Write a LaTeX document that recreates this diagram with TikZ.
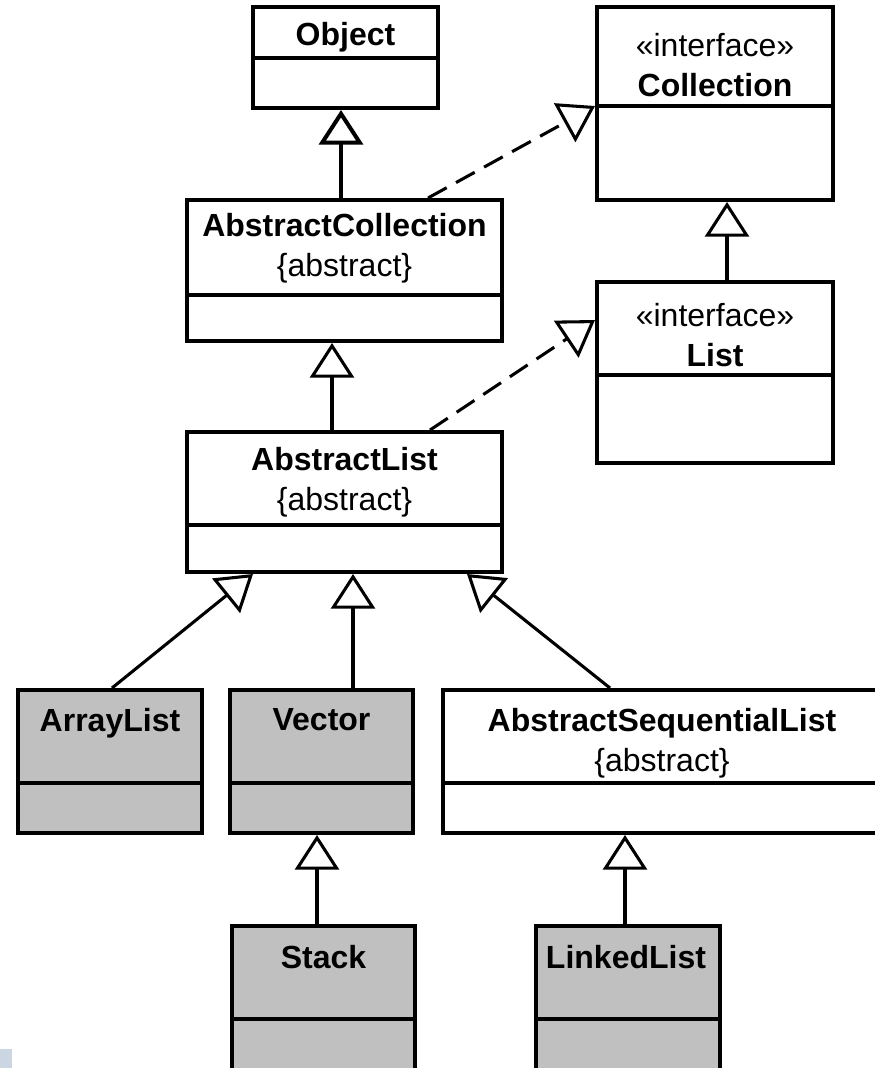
\documentclass[tikz,border=0pt]{standalone}
\usepackage{fontspec}
\setmainfont{Liberation Sans}
\usetikzlibrary{calc, arrows.meta}
\definecolor{clsgray}{RGB}{192,192,192}
\definecolor{cornerblue}{RGB}{203,214,226}

\begin{document}
\begin{tikzpicture}[x=0.75pt, y=-0.75pt,
        cls/.style={draw, line width=3pt, fill=white, inner sep=0pt},
        concrete/.style={cls, fill=clsgray},
        lbl/.style={anchor=north, align=center, inner sep=0pt, font=\fontsize{24}{30}\selectfont},
        sep/.style={line width=2.6pt},
        gen/.style={-{Triangle[open, length=26pt, width=33pt]}, line width=2.3pt},
        real/.style={gen, dash pattern=on 16pt off 8pt}]
            \path[fill=white, use as bounding box] (0,0) rectangle (875,1068);

            \node[cls, minimum width=138.75pt, minimum height=75.75pt] (obj) at (345.5,57.5) {};
            \node[cls, minimum width=177pt, minimum height=144.75pt] (coll) at (715,103.5) {};
            \node[cls, minimum width=236.25pt, minimum height=105.75pt] (acoll) at (344.5,270.5) {};
            \node[cls, minimum width=177pt, minimum height=135.75pt] (list) at (715,372.5) {};
            \node[cls, minimum width=236.25pt, minimum height=105pt] (alist) at (344.5,502) {};
            \node[concrete, minimum width=138pt, minimum height=107.25pt] (arr) at (110,761.5) {};
            \node[concrete, minimum width=137.25pt, minimum height=107.25pt] (vec) at (321.5,761.5) {};
            \node[cls, minimum width=328.5pt, minimum height=107.25pt] (aseq) at (662,761.5) {};
            \node[concrete, minimum width=137.25pt, minimum height=112.5pt] (stack) at (323.5,1001) {};
            \node[concrete, minimum width=138pt, minimum height=112.5pt] (linked) at (628,1001) {};

            \foreach \n/\y in {obj/58, coll/106, acoll/295, list/375, alist/525, arr/783, vec/783, aseq/783, stack/1019, linked/1019}{
                \draw[sep] (\n.west |- 0,\y) -- (\n.east |- 0,\y);
            }

            \node[lbl] (obj-t) at (345.5,22) {\textbf{Object}};
            \node[lbl] (coll-t) at (715,33) {«interface»\\\textbf{Collection}};
            \node[lbl] (acoll-t) at (344.5,213) {\textbf{AbstractCollection}\\\{abstract\}};
            \node[lbl] (list-t) at (715,303) {«interface»\\\textbf{List}};
            \node[lbl] (alist-t) at (344.5,447) {\textbf{AbstractList}\\\{abstract\}};
            \node[lbl] (arr-t) at (110,708) {\textbf{ArrayList}};
            \node[lbl] (vec-t) at (321.5,708) {\textbf{Vector}};
            \node[lbl] (aseq-t) at (662,708) {\textbf{AbstractSequentialList}\\\{abstract\}};
            \node[lbl] (stack-t) at (323.5,945) {\textbf{Stack}};
            \node[lbl] (linked-t) at (626,945) {\textbf{LinkedList}};

            \draw[gen, line width=3pt] (acoll.north -| 341,0) -- (obj.south -| 341,0);
            \draw[real] (acoll.north -| 428,0) -- (coll.west |- 0,106);
            \draw[gen] (list.north -| 727,0) -- (coll.south -| 727,0);
            \draw[gen] (alist.north -| 332,0) -- (acoll.south -| 332,0);
            \draw[real] (alist.north -| 430,0) -- (list.west |- 0,320);
            \draw[gen] (arr.north -| 112,0) -- (alist.south -| 253,0);
            \draw[gen] (vec.north -| 353,0) -- (alist.south -| 353,0);
            \draw[gen] (aseq.north -| 610,0) -- (alist.south -| 467,0);
            \draw[gen] (stack.north -| 317,0) -- (vec.south -| 317,0);
            \draw[gen] (linked.north -| 625,0) -- (aseq.south -| 625,0);

            \fill[cornerblue] (0,1049) rectangle (12,1068);
        \end{tikzpicture}
\end{document}
